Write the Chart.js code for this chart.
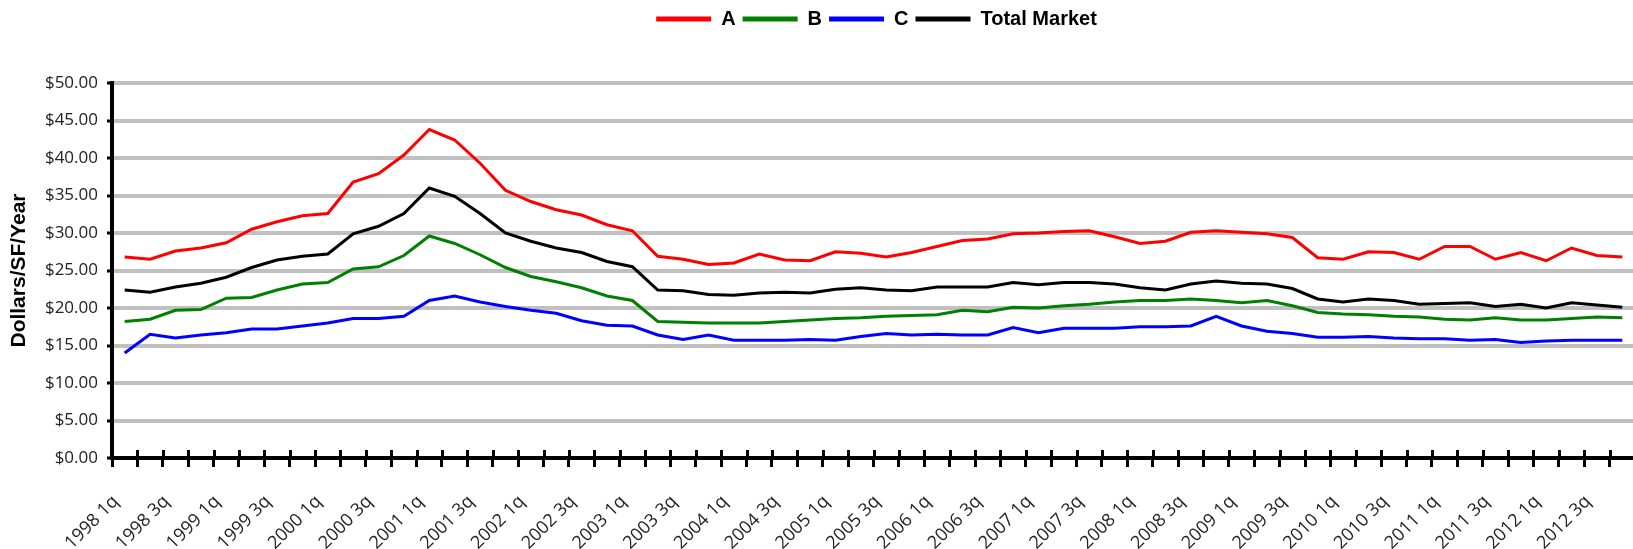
<!DOCTYPE html>
<html>
<head>
<meta charset="utf-8">
<title>Asking rents by class</title>
<script src="https://cdn.jsdelivr.net/npm/chart.js@4.4.0/dist/chart.umd.min.js"></script>
<style>
  html, body { margin: 0; padding: 0; background: #fff; overflow: hidden; }
  #wrap { width: 1640px; height: 549px; }
</style>
</head>
<body>
<div id="wrap"><canvas id="rents" width="1640" height="549"></canvas></div>
<script>
// categories: every quarter 1998 1q .. 2012 4q (only 1q / 3q get a label)
const years = [1998, 1999, 2000, 2001, 2002, 2003, 2004, 2005, 2006, 2007, 2008, 2009, 2010, 2011, 2012];
const quarterNames = ['1q', '2q', '3q', '4q'];
const quarters = years.flatMap(y => quarterNames.map(q => `${y} ${q}`));

// Dollars/SF/Year
const classA = [
  26.8, 26.5, 27.6, 28.0, 28.7, 30.5, 31.5, 32.3, 32.6, 36.8,
  37.9, 40.4, 43.8, 42.4, 39.3, 35.7, 34.2, 33.1, 32.4, 31.1,
  30.3, 26.9, 26.5, 25.8, 26.0, 27.2, 26.4, 26.3, 27.5, 27.3,
  26.8, 27.4, 28.2, 29.0, 29.2, 29.9, 30.0, 30.2, 30.3, 29.5,
  28.6, 28.9, 30.1, 30.3, 30.1, 29.9, 29.4, 26.7, 26.5, 27.5,
  27.4, 26.5, 28.2, 28.2, 26.5, 27.4, 26.3, 28.0, 27.0, 26.8
];
const classB = [
  18.2, 18.5, 19.7, 19.8, 21.3, 21.4, 22.4, 23.2, 23.4, 25.2,
  25.5, 27.0, 29.6, 28.6, 27.1, 25.4, 24.2, 23.5, 22.7, 21.6,
  21.0, 18.2, 18.1, 18.0, 18.0, 18.0, 18.2, 18.4, 18.6, 18.7,
  18.9, 19.0, 19.1, 19.7, 19.5, 20.1, 20.0, 20.3, 20.5, 20.8,
  21.0, 21.0, 21.2, 21.0, 20.7, 21.0, 20.3, 19.4, 19.2, 19.1,
  18.9, 18.8, 18.5, 18.4, 18.7, 18.4, 18.4, 18.6, 18.8, 18.7
];
const classC = [
  14.0, 16.5, 16.0, 16.4, 16.7, 17.2, 17.2, 17.6, 18.0, 18.6,
  18.6, 18.9, 21.0, 21.6, 20.8, 20.2, 19.7, 19.3, 18.3, 17.7,
  17.6, 16.4, 15.8, 16.4, 15.7, 15.7, 15.7, 15.8, 15.7, 16.2,
  16.6, 16.4, 16.5, 16.4, 16.4, 17.4, 16.7, 17.3, 17.3, 17.3,
  17.5, 17.5, 17.6, 18.9, 17.6, 16.9, 16.6, 16.1, 16.1, 16.2,
  16.0, 15.9, 15.9, 15.7, 15.8, 15.4, 15.6, 15.7, 15.7, 15.7
];
const totalMarket = [
  22.4, 22.1, 22.8, 23.3, 24.1, 25.4, 26.4, 26.9, 27.2, 29.9,
  30.9, 32.6, 36.0, 34.9, 32.6, 30.0, 28.9, 28.0, 27.4, 26.2,
  25.5, 22.4, 22.3, 21.8, 21.7, 22.0, 22.1, 22.0, 22.5, 22.7,
  22.4, 22.3, 22.8, 22.8, 22.8, 23.4, 23.1, 23.4, 23.4, 23.2,
  22.7, 22.4, 23.2, 23.6, 23.3, 23.2, 22.6, 21.2, 20.8, 21.2,
  21.0, 20.5, 20.6, 20.7, 20.2, 20.5, 20.0, 20.7, 20.4, 20.1
];

const tickFont = { family: 'Open Sans', size: 17 };
const xTickFont = { family: 'Open Sans', size: 18 };
const boldFont = { family: 'Liberation Sans', size: 20, weight: 'bold' };
const titleFont = { family: 'Liberation Sans', size: 21, weight: 'bold' };

function series(label, data, color) {
  return {
    label, data,
    borderColor: color,
    backgroundColor: color,
    borderWidth: 3,
    pointRadius: 0,
    tension: 0
  };
}

// Excel-style x ticks cross the axis: draw the part above it
const ticksAbove = {
  id: 'ticksAbove',
  afterDraw(chart) {
    const xs = chart.scales.x;
    const { ctx, chartArea } = chart;
    const step = xs.getPixelForValue(1) - xs.getPixelForValue(0);
    ctx.save();
    ctx.strokeStyle = '#000';
    ctx.lineWidth = 3;
    ctx.beginPath();
    for (let i = 0; i <= quarters.length; i++) {
      const x = Math.round(xs.getPixelForValue(i) - step / 2) + 0.5;
      ctx.moveTo(x, chartArea.bottom - 8);
      ctx.lineTo(x, chartArea.bottom);
    }
    ctx.stroke();
    ctx.restore();
  }
};

// legend sits above the plot area, centred on it, with room below it
const legendSpace = {
  id: 'legendSpace',
  beforeInit(chart) {
    const fit = chart.legend.fit;
    chart.legend.fit = function () {
      fit.call(this);
      this.height = 81;
    };
  },
  afterLayout(chart) {
    chart.legend.left = chart.chartArea.left + 3;
    chart.legend.right = chart.chartArea.right + 3;
  }
};

new Chart(document.getElementById('rents'), {
  type: 'line',
  data: {
    labels: quarters,
    datasets: [
      series('A', classA, '#ff0000'),
      series('B', classB, '#008000'),
      series('C', classC, '#0000ff'),
      series('Total Market', totalMarket, '#000000')
    ]
  },
  options: {
    responsive: false,
    animation: false,
    devicePixelRatio: 1,
    layout: { padding: { top: 2, right: 5, bottom: 0, left: 0 } },
    plugins: {
      tooltip: { enabled: false },
      legend: {
        position: 'top',
        labels: {
          color: '#000',
          font: boldFont,
          boxWidth: 55,
          boxHeight: 5,
          padding: 7,
          generateLabels: chart => Chart.defaults.plugins.legend.labels.generateLabels(chart)
            .map(item => ({ ...item, lineWidth: 0 }))
        }
      }
    },
    scales: {
      x: {
        offset: true,
        grid: { offset: true, drawOnChartArea: false, tickColor: '#000', tickWidth: 3, tickLength: 9 },
        border: { color: '#000', width: 4 },
        ticks: {
          autoSkip: false,
          minRotation: 45,
          maxRotation: 45,
          padding: 24,
          labelOffset: -9,
          color: '#222',
          font: xTickFont,
          callback: (value, index) => index % 2 === 0 ? quarters[index] : ''
        },
        afterFit(scale) {
          scale.height = 91;
          scale.paddingLeft = 0;
          scale.paddingRight = 0;
        }
      },
      y: {
        min: 0,
        max: 50,
        ticks: {
          stepSize: 5,
          padding: 9,
          color: '#222',
          font: tickFont,
          callback: v => '$' + v.toFixed(2)
        },
        grid: { color: '#c0c0c0', lineWidth: 4, tickColor: '#000', tickWidth: 3, tickLength: 5 },
        border: { color: '#000', width: 4 },
        title: {
          display: true,
          text: 'Dollars/SF/Year',
          color: '#000',
          font: titleFont,
          padding: { top: 7, bottom: 0 }
        },
        afterFit(scale) { scale.width = 112; }
      }
    }
  },
  plugins: [ticksAbove, legendSpace]
});
</script>
</body>
</html>
